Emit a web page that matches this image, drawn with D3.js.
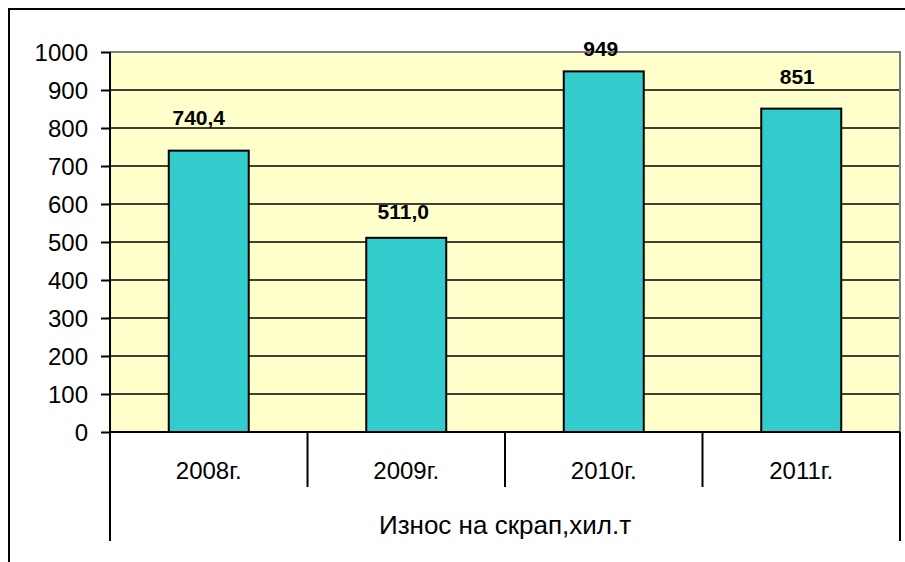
<!DOCTYPE html>
<html>
<head>
<meta charset="utf-8">
<script src="https://cdn.jsdelivr.net/npm/d3@7"></script>
<style>
  body { margin: 0; background: #fff; }
  text { font-family: Arial, "Liberation Sans", sans-serif; }
</style>
</head>
<body>
<svg id="chart" width="905" height="562"></svg>
<script>
// data
const years = ["2008г.", "2009г.", "2010г.", "2011г."]
const values = [740.4, 511.0, 949, 851]
const valueLabels = ["740,4", "511,0", "949", "851"]
const yTicks = [0, 100, 200, 300, 400, 500, 600, 700, 800, 900, 1000]
const groupLabel = "Износ на скрап,хил.т"

// plot area box
const plotLeft = 110
const plotRight = 900
const plotTop = 52
const plotBottom = 432

// the value labels were nudged by hand in the original, so each sits a bit differently
const labelLift = [26, 19, 15, 25]
const labelShift = [-10, -3, -3, -4]

const svg = d3.select("#chart")

// outer chart frame, cut by the window on right and bottom
svg.append("rect")
    .attr("x", 9).attr("y", 9)
    .attr("width", 920).attr("height", 600)
    .attr("fill", "#fff")
    .attr("stroke", "#000")
    .attr("stroke-width", 2)

const x = d3.scaleBand().domain(years).range([plotLeft, plotRight]).padding(0)
const y = d3.scaleLinear().domain([0, 1000]).range([plotBottom, plotTop])

// yellow plot background
svg.append("rect")
    .attr("x", plotLeft).attr("y", plotTop)
    .attr("width", plotRight - plotLeft).attr("height", plotBottom - plotTop)
    .attr("fill", "#ffffcc")

// grid lines
svg.append("g")
    .selectAll("line")
    .data(yTicks.filter(d => d > 0 && d < 1000))
    .join("line")
    .attr("x1", plotLeft).attr("x2", plotRight)
    .attr("y1", d => y(d)).attr("y2", d => y(d))
    .attr("stroke", "#000")
    .attr("stroke-width", 1.5)

// grey plot border on top and right
svg.append("path")
    .attr("d", `M${plotLeft},${y(1000)} H${plotRight} V${plotBottom}`)
    .attr("fill", "none")
    .attr("stroke", "#808080")
    .attr("stroke-width", 2)

// bars
const barW = x.bandwidth() * 0.405
svg.append("g")
    .selectAll("rect")
    .data(values)
    .join("rect")
    .attr("x", (d, i) => x(years[i]) + x.bandwidth() / 2 - barW / 2)
    .attr("y", d => y(d))
    .attr("width", barW)
    .attr("height", d => y(0) - y(d))
    .attr("fill", "#33cccc")
    .attr("stroke", "#000")
    .attr("stroke-width", 2)

// value labels
svg.append("g")
    .selectAll("text")
    .data(values)
    .join("text")
    .attr("x", (d, i) => x(years[i]) + x.bandwidth() / 2 + labelShift[i])
    .attr("y", (d, i) => y(d) - labelLift[i])
    .attr("text-anchor", "middle")
    .attr("font-size", 21)
    .attr("font-weight", "bold")
    .text((d, i) => valueLabels[i])

// y axis
const yAxis = d3.axisLeft(y).tickValues(yTicks).tickFormat(d3.format("d"))
    .tickSize(9).tickSizeOuter(0).tickPadding(13)
const ya = svg.append("g")
    .attr("transform", `translate(${plotLeft},0)`)
    .call(yAxis)
ya.attr("font-size", null).attr("font-family", null)
ya.select(".domain").remove()
ya.selectAll(".tick line").attr("stroke", "#000").attr("stroke-width", 2)
ya.selectAll(".tick text")
    .style("font-size", "24px")
    .attr("fill", "#000")
    .attr("dy", "0.36em")

// axis lines
svg.append("line")
    .attr("x1", plotLeft).attr("x2", plotLeft)
    .attr("y1", plotTop).attr("y2", 541)
    .attr("stroke", "#000").attr("stroke-width", 2)
svg.append("line")
    .attr("x1", plotLeft).attr("x2", plotRight)
    .attr("y1", plotBottom).attr("y2", plotBottom)
    .attr("stroke", "#000").attr("stroke-width", 2)
svg.append("line")
    .attr("x1", plotRight).attr("x2", plotRight)
    .attr("y1", plotBottom).attr("y2", 541)
    .attr("stroke", "#000").attr("stroke-width", 2)

// category dividers
svg.append("g")
    .selectAll("line")
    .data(years.slice(1))
    .join("line")
    .attr("x1", d => x(d)).attr("x2", d => x(d))
    .attr("y1", plotBottom).attr("y2", 487)
    .attr("stroke", "#000").attr("stroke-width", 2)

// category labels
svg.append("g")
    .selectAll("text")
    .data(years)
    .join("text")
    .attr("x", d => x(d) + x.bandwidth() / 2)
    .attr("y", 479)
    .attr("text-anchor", "middle")
    .style("font-size", "24px")
    .text(d => d)

// group label
svg.append("text")
    .attr("x", (plotLeft + plotRight) / 2)
    .attr("y", 534)
    .attr("text-anchor", "middle")
    .style("font-size", "26px")
    .text(groupLabel)
</script>
</body>
</html>
